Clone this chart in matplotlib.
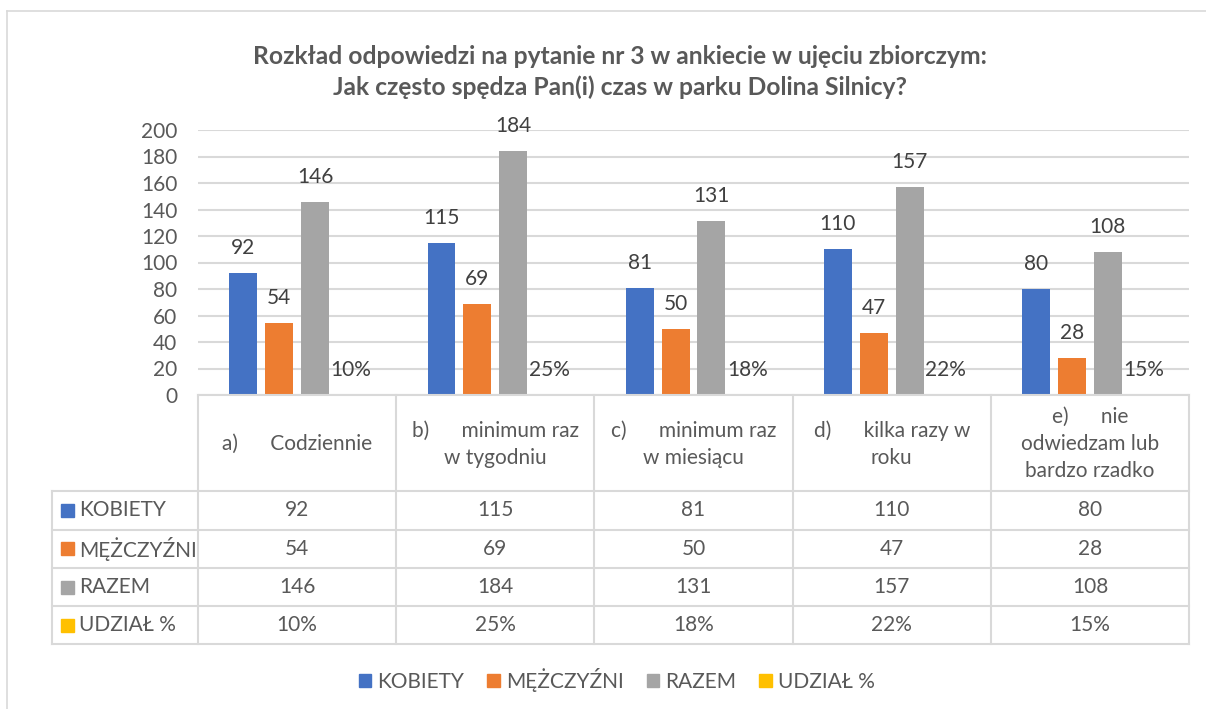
import matplotlib.pyplot as plt
from matplotlib.patches import Patch, Rectangle
from matplotlib.lines import Line2D
import numpy as np

# data
headers = [
    "a)      Codziennie",
    "b)      minimum raz\nw tygodniu",
    "c)      minimum raz\nw miesiącu",
    "d)      kilka razy w\nroku",
    "e)      nie\nodwiedzam lub\nbardzo rzadko",
]
series_names = ["KOBIETY", "MĘŻCZYŹNI", "RAZEM", "UDZIAŁ %"]
kobiety = [92, 115, 81, 110, 80]
mezczyzni = [54, 69, 50, 47, 28]
razem = [146, 184, 131, 157, 108]
udzial = [0.10, 0.25, 0.18, 0.22, 0.15]

COLORS = ["#4472C4", "#ED7D31", "#A5A5A5", "#FFC000"]
GRID = "#D9D9D9"
TXT = "#595959"
LBL = "#404040"
FS = 15

plt.rcParams["font.family"] = ["Lato", "DejaVu Sans"]

W, H = 1206, 709
fig = plt.figure(figsize=(W / 100, H / 100), dpi=100)


def fx(px):
    return px / W


def fy(py):
    return 1 - py / H


# outer chart frame (left and top edges visible)
fig.add_artist(Line2D([fx(7), fx(7)], [fy(11), 0], color=GRID, lw=1.2, transform=fig.transFigure))
fig.add_artist(Line2D([fx(7), 1], [fy(11), fy(11)], color=GRID, lw=1.2, transform=fig.transFigure))

fig.text(fx(620), fy(57), "Rozkład odpowiedzi na pytanie nr 3 w ankiecie w ujęciu zbiorczym:",
         ha="center", va="center", fontsize=17.7, fontweight="bold", color=TXT)
fig.text(fx(620), fy(87), "Jak często spędza Pan(i) czas w parku Dolina Silnicy?",
         ha="center", va="center", fontsize=17.7, fontweight="bold", color=TXT)

# main bar axes
left, right, top, bottom = 198, 1189, 130, 395
ax = fig.add_axes([fx(left), fy(bottom), fx(right - left), (bottom - top) / H])
x = np.arange(len(headers))
width = 0.141
step = 0.181
offsets = (np.arange(4) - 1.5) * step
values = [kobiety, mezczyzni, razem, udzial]
for i, (vals, col) in enumerate(zip(values, COLORS)):
    bars = ax.bar(x + offsets[i], vals, width, color=col, zorder=3)
    for b, v in zip(bars, vals):
        txt = f"{v:.0%}" if i == 3 else f"{v}"
        ax.annotate(txt, (b.get_x() + b.get_width() / 2, b.get_height()),
                    xytext=(0, 18), textcoords="offset points",
                    ha="center", va="center", fontsize=FS, color=LBL)

ax.set_xlim(-0.5, len(headers) - 0.5)
ax.set_ylim(0, 200)
ax.set_yticks(np.arange(0, 201, 20))
ax.yaxis.grid(True, color=GRID, lw=1.5)
ax.set_axisbelow(True)
ax.set_xticks([])
for s in ax.spines.values():
    s.set_visible(False)
ax.tick_params(axis="y", length=0, pad=15, labelsize=FS, labelcolor=TXT)
ax.patch.set_alpha(0)

# data table under the chart
tleft, tbottom = 52, 644
unit = (right - left) / len(headers)
lab_w = (left - tleft) / unit
tab = fig.add_axes([fx(tleft), fy(tbottom), fx(right - tleft), (tbottom - bottom) / H])
tab.set_xlim(-0.5 - lab_w, len(headers) - 0.5)
row_edges = [0, 96, 134.5, 173, 211, 249]
tab.set_ylim(row_edges[-1], 0)
tab.axis("off")

lw = 1.5
# horizontal lines
tab.plot([-0.5, len(headers) - 0.5], [0, 0], color=GRID, lw=lw, clip_on=False)
for yy in row_edges[1:]:
    tab.plot([-0.5 - lab_w, len(headers) - 0.5], [yy, yy], color=GRID, lw=lw, clip_on=False)
# vertical lines
tab.plot([-0.5 - lab_w] * 2, [row_edges[1], row_edges[-1]], color=GRID, lw=lw, clip_on=False)
for xx in np.arange(len(headers) + 1) - 0.5:
    tab.plot([xx, xx], [0, row_edges[-1]], color=GRID, lw=lw, clip_on=False)

for j, h in enumerate(headers):
    tab.text(j, row_edges[1] / 2 + 1, h, ha="center", va="center", fontsize=FS,
             color=TXT, linespacing=1.45)

for r, (name, vals, col) in enumerate(zip(series_names, values, COLORS)):
    yc = (row_edges[r + 1] + row_edges[r + 2]) / 2
    sq = 13 / unit
    tab.add_patch(Rectangle((-0.5 - lab_w + 9 / unit, yc - 6.5), sq, 13, color=col, clip_on=False))
    tab.text(-0.5 - lab_w + 27 / unit, yc, name, ha="left", va="center", fontsize=FS, color=TXT)
    for j, v in enumerate(vals):
        txt = f"{v:.0%}" if r == 3 else f"{v}"
        tab.text(j, yc, txt, ha="center", va="center", fontsize=FS, color=TXT)

handles = [Patch(color=c, label=n) for c, n in zip(COLORS, series_names)]
fig.legend(handles=handles, loc="center", bbox_to_anchor=(fx(617), fy(680)), ncol=4,
           frameon=False, fontsize=FS, labelcolor=TXT, handlelength=0.6, handleheight=0.6,
           handletextpad=0.3, columnspacing=1.1)

fig.savefig("out.png", dpi=100)
